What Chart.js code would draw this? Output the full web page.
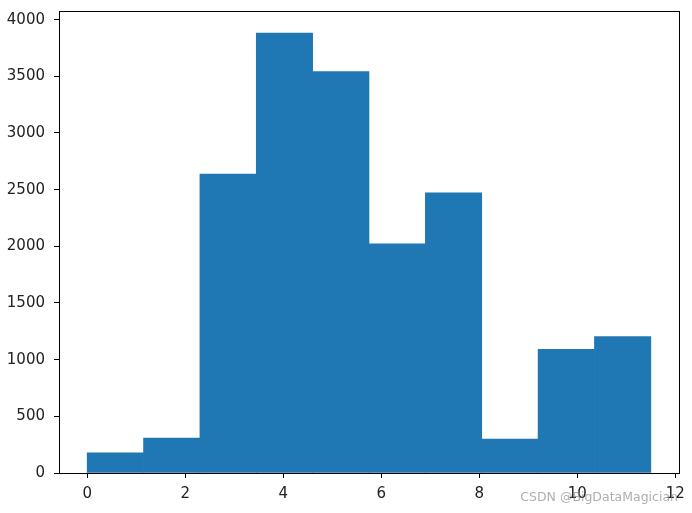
<!DOCTYPE html>
<html>
<head>
<meta charset="utf-8">
<script src="https://cdn.jsdelivr.net/npm/chart.js@4/dist/chart.umd.min.js"></script>
<style>
html,body{margin:0;padding:0;background:#fff;}
canvas{display:block;}
</style>
</head>
<body>
<canvas id="c" width="692" height="513"></canvas>
<script>
// Histogram bin edges and counts
const binEdges = [0, 1.15, 2.3, 3.45, 4.6, 5.75, 6.9, 8.05, 9.2, 10.35, 11.5];
const counts = [179, 309, 2638, 3882, 3541, 2023, 2471, 300, 1091, 1203];
const xTicks = [0, 2, 4, 6, 8, 10, 12];
const yTicks = [0, 500, 1000, 1500, 2000, 2500, 3000, 3500, 4000];

const points = counts.map((c, i) => ({ x: (binEdges[i] + binEdges[i + 1]) / 2, y: c }));
const span = binEdges[binEdges.length - 1] - binEdges[0];
const xMin = binEdges[0] - span * 0.05;
const xMax = binEdges[binEdges.length - 1] + span * 0.05;
const yMax = Math.max(...counts) * 1.05;

const font = { family: 'DejaVu Sans', size: 15 };

const frame = {
  id: 'frame',
  afterDraw(chart) {
    const { ctx, chartArea: a } = chart;
    ctx.save();
    ctx.strokeStyle = '#000';
    ctx.lineWidth = 1;
    ctx.strokeRect(Math.round(a.left) + 0.5, Math.round(a.top) + 0.5, Math.round(a.right - a.left), Math.round(a.bottom - a.top));
    ctx.fillStyle = 'rgba(140,140,140,0.7)';
    ctx.font = '12.5px "DejaVu Sans"';
    ctx.textAlign = 'right';
    ctx.textBaseline = 'middle';
    ctx.fillText('CSDN @BigDataMagician', 678, 498);
    ctx.restore();
  }
};

new Chart(document.getElementById('c'), {
  type: 'bar',
  data: {
    datasets: [{
      data: points,
      backgroundColor: '#1f77b4',
      borderWidth: 0,
      barPercentage: 1,
      categoryPercentage: 1
    }]
  },
  options: {
    responsive: false,
    animation: false,
    layout: { padding: { left: 0, right: 13, top: 11, bottom: 0 } },
    plugins: { legend: { display: false }, tooltip: { enabled: false } },
    scales: {
      x: {
        type: 'linear',
        offset: false,
        min: xMin,
        max: xMax,
        afterBuildTicks(s) { s.ticks = xTicks.map(v => ({ value: v })); },
        afterFit(s) { s.height = 40; s.paddingLeft = 0; s.paddingRight = 0; },
        grid: { offset: false, drawOnChartArea: false, drawTicks: true, tickLength: 5, tickColor: '#000' },
        border: { display: true, color: '#000', width: 1 },
        ticks: { color: '#222', font, padding: 7, maxRotation: 0, includeBounds: false, callback: v => String(v) }
      },
      y: {
        min: 0,
        max: yMax,
        afterBuildTicks(s) { s.ticks = yTicks.map(v => ({ value: v })); },
        afterFit(s) { s.width = 59; s.paddingTop = 0; s.paddingBottom = 0; },
        grid: { drawOnChartArea: false, drawTicks: true, tickLength: 5, tickColor: '#000' },
        border: { display: true, color: '#000', width: 1 },
        ticks: { color: '#222', font, padding: 9, includeBounds: false, callback: v => String(v) }
      }
    }
  },
  plugins: [frame]
});
</script>
</body>
</html>
